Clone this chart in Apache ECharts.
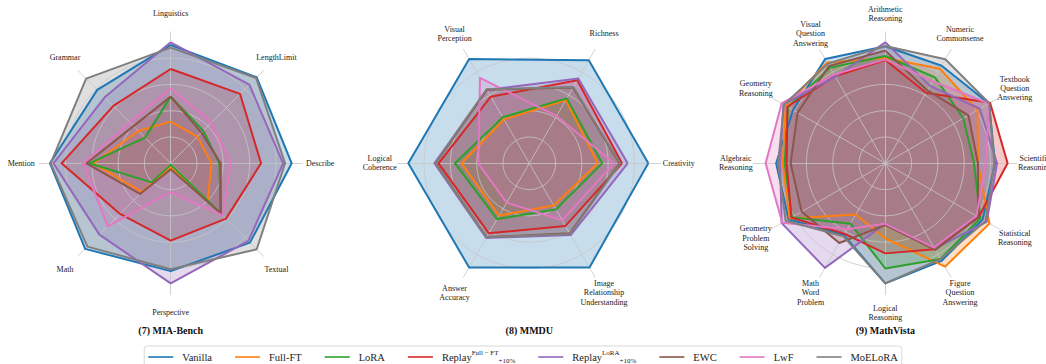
<!DOCTYPE html>
<html><head><meta charset="utf-8">
<script src="https://cdn.jsdelivr.net/npm/echarts@6/dist/echarts.min.js"></script>
<style>html,body{margin:0;padding:0;background:#fff}#c{width:1046px;height:364px}</style>
</head><body><div id="c"></div>
<script>
// ---------- legend / series ----------
const methods = ['Vanilla','Full-FT','LoRA','Replay-FullFT','Replay-LoRA','EWC','LwF','MoELoRA'];
const colors  = ['#1f77b4','#ff7f0e','#2ca02c','#d62728','#9467bd','#8c564b','#e377c2','#7f7f7f'];

// ---------- (7) MIA-Bench : axes listed counter-clockwise from top ----------
const miaAxes = ['Linguistics','Grammar','Mention','Math','Perspective','Textual','Describe','LengthLimit'];
const miaVanilla    = [0.90, 0.79, 0.918, 0.92, 0.82, 0.853, 0.92, 0.925];
const miaFullFT     = [0.317, 0.348, 0.585, 0.31, 0.03, 0.398, 0.31, 0.287];
const miaLoRA       = [0.507, 0.276, 0.62, 0.205, 0.01, 0.535, 0.37, 0.35];
const miaReplayFFT  = [0.717, 0.617, 0.83, 0.545, 0.588, 0.595, 0.687, 0.746];
const miaReplayLoRA = [0.92, 0.71, 0.892, 0.767, 0.913, 0.835, 0.855, 0.846];
const miaEWC        = [0.507, 0.40, 0.64, 0.33, 0.046, 0.54, 0.38, 0.33];
const miaLwF        = [0.57, 0.44, 0.665, 0.678, 0.22, 0.56, 0.456, 0.44];
const miaMoELoRA    = [0.88, 0.91, 0.913, 0.896, 0.806, 0.925, 0.87, 0.918];

// ---------- (8) MMDU : axes counter-clockwise from right ----------
const mmduAxes = ['Creativity','Richness','Visual\nPerception','Logical\nCoherence','Answer\nAccuracy','Image\nRelationship\nUnderstanding'];
const mmduVanilla    = [0.905, 0.905, 0.915, 0.92, 0.915, 0.915];
const mmduFullFT     = [0.52, 0.555, 0.385, 0.515, 0.46, 0.37];
const mmduLoRA       = [0.555, 0.57, 0.405, 0.565, 0.49, 0.405];
const mmduReplayFFT  = [0.705, 0.73, 0.585, 0.69, 0.615, 0.55];
const mmduReplayLoRA = [0.748, 0.745, 0.645, 0.722, 0.655, 0.63];
const mmduEWC        = [0.685, 0.665, 0.645, 0.712, 0.648, 0.615];
const mmduLwF        = [0.645, 0.416, 0.75, 0.388, 0.345, 0.50];
const mmduMoELoRA    = [0.69, 0.67, 0.65, 0.715, 0.65, 0.62];

// ---------- (9) MathVista : axes counter-clockwise from top ----------
const mvAxes = ['Arithmetic\nReasoning','Visual\nQuestion\nAnswering','Geometry\nReasoning','Algebraic\nReasoning',
  'Geometry\nProblem\nSolving','Math\nWord\nProblem','Logical\nReasoning','Figure\nQuestion\nAnswering',
  'Statistical\nReasoning','Scientific\nReasoning','Textbook\nQuestion\nAnswering','Numeric\nCommonsense'];
const mvVanilla    = [0.89, 0.915, 0.81, 0.83, 0.85, 0.63, 0.913, 0.857, 0.855, 0.835, 0.91, 0.857];
const mvFullFT     = [0.80, 0.885, 0.875, 0.78, 0.84, 0.45, 0.57, 0.908, 0.915, 0.705, 0.81, 0.83];
const mvLoRA       = [0.816, 0.84, 0.855, 0.765, 0.82, 0.53, 0.80, 0.84, 0.835, 0.675, 0.685, 0.755];
const mvReplayFFT  = [0.785, 0.765, 0.86, 0.75, 0.825, 0.62, 0.685, 0.755, 0.82, 0.93, 0.92, 0.62];
const mvReplayLoRA = [0.92, 0.76, 0.895, 0.80, 0.91, 0.918, 0.46, 0.75, 0.89, 0.85, 0.83, 0.68];
const mvEWC        = [0.857, 0.855, 0.77, 0.72, 0.735, 0.70, 0.47, 0.76, 0.815, 0.705, 0.73, 0.64];
const mvLwF        = [0.79, 0.78, 0.91, 0.91, 0.905, 0.58, 0.46, 0.74, 0.80, 0.765, 0.91, 0.72];
const mvMoELoRA    = [0.892, 0.875, 0.89, 0.815, 0.875, 0.64, 0.913, 0.84, 0.88, 0.83, 0.913, 0.913];

const panels = [
  {title:'(7) MIA-Bench', axes:miaAxes, start:90, center:[170.7,163.3],
   values:[miaVanilla,miaFullFT,miaLoRA,miaReplayFFT,miaReplayLoRA,miaEWC,miaLwF,miaMoELoRA]},
  {title:'(8) MMDU', axes:mmduAxes, start:0, center:[529.3,163.3],
   values:[mmduVanilla,mmduFullFT,mmduLoRA,mmduReplayFFT,mmduReplayLoRA,mmduEWC,mmduLwF,mmduMoELoRA]},
  {title:'(9) MathVista', axes:mvAxes, start:90, center:[885.3,163.3],
   values:[mvVanilla,mvFullFT,mvLoRA,mvReplayFFT,mvReplayLoRA,mvEWC,mvLwF,mvMoELoRA]}
];

const R = 131.5, LABEL_DIST = 149.5;
const FONT = '"Liberation Serif","Times New Roman",serif';
const gridColor = '#c6c6c6';

const radar = panels.map(p => ({
  center: p.center, radius: R, startAngle: p.start, shape: 'circle', splitNumber: 5, z: 2,
  indicator: p.axes.map(n => ({name: n, min: 0, max: 1})),
  axisName: {show: false},
  splitLine: {lineStyle: {color: [gridColor,gridColor,gridColor,gridColor,gridColor,'rgba(0,0,0,0)'], width: 0.8}},
  splitArea: {show: false},
  axisLine: {lineStyle: {color: gridColor, width: 0.8}},
  axisTick: {show: false}, axisLabel: {show: false}
}));

const series = [];
panels.forEach((p, ri) => {
  p.values.forEach((v, k) => {
    series.push({type:'radar', radarIndex:ri, name:methods[k], z:1, symbol:'none', silent:true,
      data:[{value:v, name:methods[k]}],
      itemStyle:{color:colors[k]},
      lineStyle:{width:0, opacity:0},
      areaStyle:{color:colors[k], opacity:0.25}});
  });
  p.values.forEach((v, k) => {
    series.push({type:'radar', radarIndex:ri, name:methods[k], z:3, symbol:'none', silent:true,
      data:[{value:v, name:methods[k]}],
      itemStyle:{color:colors[k]},
      lineStyle:{width:2, color:colors[k], join:'round'}});
  });
});

const graphics = [];
panels.forEach(p => {
  const n = p.axes.length;
  p.axes.forEach((name, i) => {
    const a = (p.start + i * 360 / n) * Math.PI / 180;
    graphics.push({type:'text', silent:true,
      x: p.center[0] + LABEL_DIST * Math.cos(a), y: p.center[1] - LABEL_DIST * Math.sin(a),
      style:{text:name, align:'center', verticalAlign:'middle', fontFamily:FONT, fontSize:8, lineHeight:9.3, fill:'#1a1a1a'}});
  });
  graphics.push({type:'text', silent:true, x:p.center[0], y:330,
    style:{text:p.title, align:'center', verticalAlign:'middle', fontFamily:FONT, fontSize:10, fontWeight:'bold', fill:'#111'}});
});

const legendLabel = {
  'Vanilla':'{n|Vanilla}', 'Full-FT':'{n|Full-FT}', 'LoRA':'{n|LoRA}',
  'Replay-FullFT':'{n|Replay}{sup|Full − FT}{sub|+10%}',
  'Replay-LoRA':'{n|Replay}{sup|LoRA}{sub|+10%}',
  'EWC':'{n|EWC}', 'LwF':'{n|LwF}', 'MoELoRA':'{n|MoELoRA}'
};

const chart = echarts.init(document.getElementById('c'), null, {renderer:'svg'});
chart.setOption({
  backgroundColor:'#fff',
  animation:false,
  radar: radar,
  series: series,
  graphic: {elements: graphics},
  legend: {
    data: methods.map((m,k) => ({name:m, itemStyle:{color:colors[k]}})),
    icon:'rect', itemWidth:25, itemHeight:1.6, itemGap:23,
    top:346, left:'center', padding:[3,4,3,4],
    borderColor:'#cfcfcf', borderWidth:0.8, borderRadius:3,
    selectedMode:false,
    formatter: name => legendLabel[name],
    textStyle: {fontFamily:FONT, fontSize:10.5, color:'#222', lineHeight:16,
      rich: {
        n:{fontFamily:FONT, fontSize:10.5, color:'#222', padding:[0,0,0,4], lineHeight:16},
        sup:{fontFamily:FONT, fontSize:7, color:'#222', verticalAlign:'top', lineHeight:9},
        sub:{fontFamily:FONT, fontSize:7, color:'#222', verticalAlign:'bottom', lineHeight:10}
      }}
  }
});
</script></body></html>
